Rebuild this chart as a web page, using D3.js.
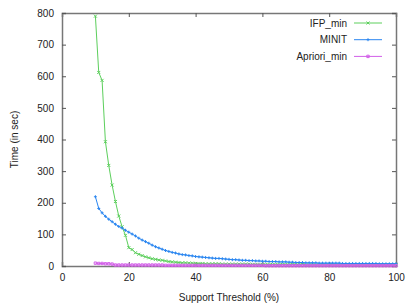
<!DOCTYPE html>
<html>
<head>
<meta charset="utf-8">
<script src="https://cdn.jsdelivr.net/npm/d3@7"></script>
<style>
  body { margin: 0; background: #fff; }
  text { font-family: "Liberation Sans", Arial, sans-serif; fill: #222; }
</style>
</head>
<body>
<div id="chart"></div>
<script>
// support thresholds 10..100 (%)
var thresholds = d3.range(10, 101);

var ifp_min = [790, 612, 587, 393, 318, 256, 204, 158, 124, 97,
  58, 52, 42, 37, 33, 29, 26, 23, 21, 19,
  18, 16, 14, 13, 12, 11, 10, 10, 9, 9,
  8, 8, 8, 7, 7, 7, 7, 7, 6, 6,
  6, 6, 6, 6, 6, 6, 6, 5, 5, 5,
  5, 5, 5, 5, 5, 5, 5, 5, 5, 5,
  5, 5, 5, 4, 4, 4, 4, 4, 4, 4,
  4, 4, 4, 4, 4, 4, 4, 4, 4, 4,
  4, 4, 4, 4, 4, 4, 4, 4, 4, 4, 4];

var minit = [219, 182, 168, 157, 148, 140, 132, 125, 120, 113,
  107, 101, 95, 88, 82, 77, 72, 66, 61, 57,
  53, 49, 46, 43, 41, 38, 36, 35, 33, 32,
  30, 29, 28, 27, 26, 25, 24, 24, 23, 22,
  21, 20, 20, 19, 18, 18, 17, 17, 16, 16,
  15, 15, 14, 14, 14, 13, 13, 13, 12, 12,
  11, 11, 11, 10, 10, 10, 10, 9, 9, 9,
  9, 9, 9, 9, 8, 8, 8, 8, 8, 8,
  8, 8, 8, 8, 8, 7, 7, 7, 7, 7, 7];

var apriori_min = [9, 8, 8, 7, 7, 6, 3, 3, 3, 3,
  3, 3, 3, 3, 3, 3, 3, 3, 3, 3,
  3, 2, 2, 2, 2, 2, 2, 2, 2, 2,
  2, 2, 2, 2, 2, 2, 2, 2, 2, 2,
  2, 2, 2, 2, 2, 2, 2, 2, 2, 2,
  2, 1, 1, 1, 1, 1, 1, 1, 1, 1,
  1, 1, 1, 1, 1, 1, 1, 1, 1, 1,
  1, 1, 1, 1, 1, 1, 1, 1, 1, 1,
  1, 1, 1, 1, 1, 1, 1, 1, 1, 1, 1];

var x_ticks = [0, 20, 40, 60, 80, 100];
var y_ticks = [0, 100, 200, 300, 400, 500, 600, 700, 800];

var series = [
  { name: 'IFP_min', values: ifp_min, color: '#5ccf5c', marker: 'cross' },
  { name: 'MINIT', values: minit, color: '#2a86f0', marker: 'plus' },
  { name: 'Apriori_min', values: apriori_min, color: '#d25ee8', marker: 'square' }
];

var width = 411;
var height = 308;
var margin = { top: 13, right: 15, bottom: 42, left: 62 };
var w = width - margin.left - margin.right;
var h = height - margin.top - margin.bottom;

var x = d3.scaleLinear().domain([0, 100]).range([0, w]);
var y = d3.scaleLinear().domain([0, 800]).range([h, 0]);

var svg = d3.select('#chart').append('svg')
  .attr('width', width)
  .attr('height', height);

var g = svg.append('g')
  .attr('transform', 'translate(' + margin.left + ',' + margin.top + ')');

// mirrored inward ticks like gnuplot
var tick_len = 4;
g.append('g').attr('class', 'x-axis')
  .attr('transform', 'translate(0,' + h + ')')
  .call(d3.axisBottom(x).tickValues(x_ticks).tickSize(-tick_len).tickPadding(8));
g.append('g').attr('class', 'x-axis-top')
  .call(d3.axisTop(x).tickValues(x_ticks).tickSize(-tick_len).tickFormat(''));
g.append('g').attr('class', 'y-axis')
  .call(d3.axisLeft(y).tickValues(y_ticks).tickSize(-tick_len).tickPadding(8));
g.append('g').attr('class', 'y-axis-right')
  .attr('transform', 'translate(' + w + ',0)')
  .call(d3.axisRight(y).tickValues(y_ticks).tickSize(-tick_len).tickFormat(''));

g.selectAll('.domain').attr('stroke', '#777').attr('stroke-width', 1.5);
g.selectAll('.tick line').attr('stroke', '#555');
g.selectAll('.tick text').style('font-size', '10px').attr('fill', '#222');

// axis labels
svg.append('text')
  .attr('x', margin.left + w / 2)
  .attr('y', 301)
  .attr('text-anchor', 'middle')
  .style('font-size', '10px')
  .text('Support Threshold (%)');

svg.append('text')
  .attr('transform', 'translate(18,' + (margin.top + h / 2) + ') rotate(-90)')
  .attr('text-anchor', 'middle')
  .style('font-size', '10px')
  .text('Time (in sec)');

function markerPath(type, cx, cy) {
  var s = 1.5;
  if (type === 'cross') {
    return 'M' + (cx - s) + ',' + (cy - s) + 'L' + (cx + s) + ',' + (cy + s) +
      'M' + (cx - s) + ',' + (cy + s) + 'L' + (cx + s) + ',' + (cy - s);
  }
  if (type === 'plus') {
    return 'M' + (cx - s) + ',' + cy + 'L' + (cx + s) + ',' + cy +
      'M' + cx + ',' + (cy - s) + 'L' + cx + ',' + (cy + s);
  }
  return 'M' + (cx - 1.2) + ',' + (cy - 1.2) + 'h2.4v2.4h-2.4z';
}

var line = d3.line()
  .x(function(d, i) { return x(thresholds[i]); })
  .y(function(d) { return y(d); });

series.forEach(function(s) {
  g.append('path')
    .datum(s.values)
    .attr('fill', 'none')
    .attr('stroke', s.color)
    .attr('stroke-width', 1)
    .attr('d', line);

  g.append('g').selectAll('path')
    .data(s.values)
    .enter().append('path')
      .attr('d', function(d, i) { return markerPath(s.marker, x(thresholds[i]), y(d)); })
      .attr('fill', 'none')
      .attr('stroke', s.color)
      .attr('stroke-width', 1);
});

// legend
var legend = svg.append('g').attr('class', 'legend');
series.forEach(function(s, i) {
  var ly = 23 + i * 16.7;
  legend.append('text')
    .attr('x', 347)
    .attr('y', ly)
    .attr('dy', '0.35em')
    .attr('text-anchor', 'end')
    .style('font-size', '10px')
    .text(s.name);
  legend.append('line')
    .attr('x1', 354).attr('x2', 382)
    .attr('y1', ly).attr('y2', ly)
    .attr('stroke', s.color)
    .attr('stroke-width', 1);
  legend.append('path')
    .attr('d', markerPath(s.marker, 368, ly))
    .attr('fill', 'none')
    .attr('stroke', s.color)
    .attr('stroke-width', 1);
});
</script>
</body>
</html>
